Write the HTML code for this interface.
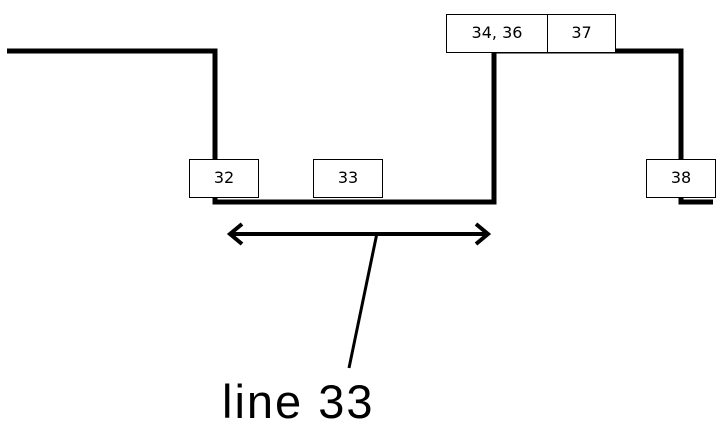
<!DOCTYPE html>
<html><head><style>
body{margin:0;background:#fff;}
.b{position:absolute;background:#fff;border:1px solid #000;box-sizing:border-box;font-family:"DejaVu Sans","Liberation Sans",sans-serif;font-size:16px;text-align:center;line-height:36px;}
</style></head><body>
<div style="position:relative;width:728px;height:435px;overflow:hidden">
<svg width="728" height="435" style="position:absolute;left:0;top:0">
<polyline points="7,51 215,51 215,202 494,202 494,51 681,51 681,202 713,202" fill="none" stroke="#000" stroke-width="5"/>
<line x1="230" y1="234" x2="488" y2="234" stroke="#000" stroke-width="4"/>
<polyline points="242,224 230,234 242,244" fill="none" stroke="#000" stroke-width="4"/>
<polyline points="476,224 488,234 476,244" fill="none" stroke="#000" stroke-width="4"/>
<line x1="377" y1="233" x2="349" y2="368" stroke="#000" stroke-width="3"/>
<text x="222" y="418" font-family="Liberation Sans, sans-serif" font-size="47" letter-spacing="2" fill="#000">line 33</text>
</svg>
<div class="b" style="left:189px;top:159px;width:70px;height:39px">32</div>
<div class="b" style="left:313px;top:159px;width:70px;height:39px">33</div>
<div class="b" style="left:446px;top:14px;width:102px;height:39px">34, 36</div>
<div class="b" style="left:547px;top:14px;width:69px;height:39px">37</div>
<div class="b" style="left:646px;top:159px;width:70px;height:39px">38</div>
</div>
</body></html>
